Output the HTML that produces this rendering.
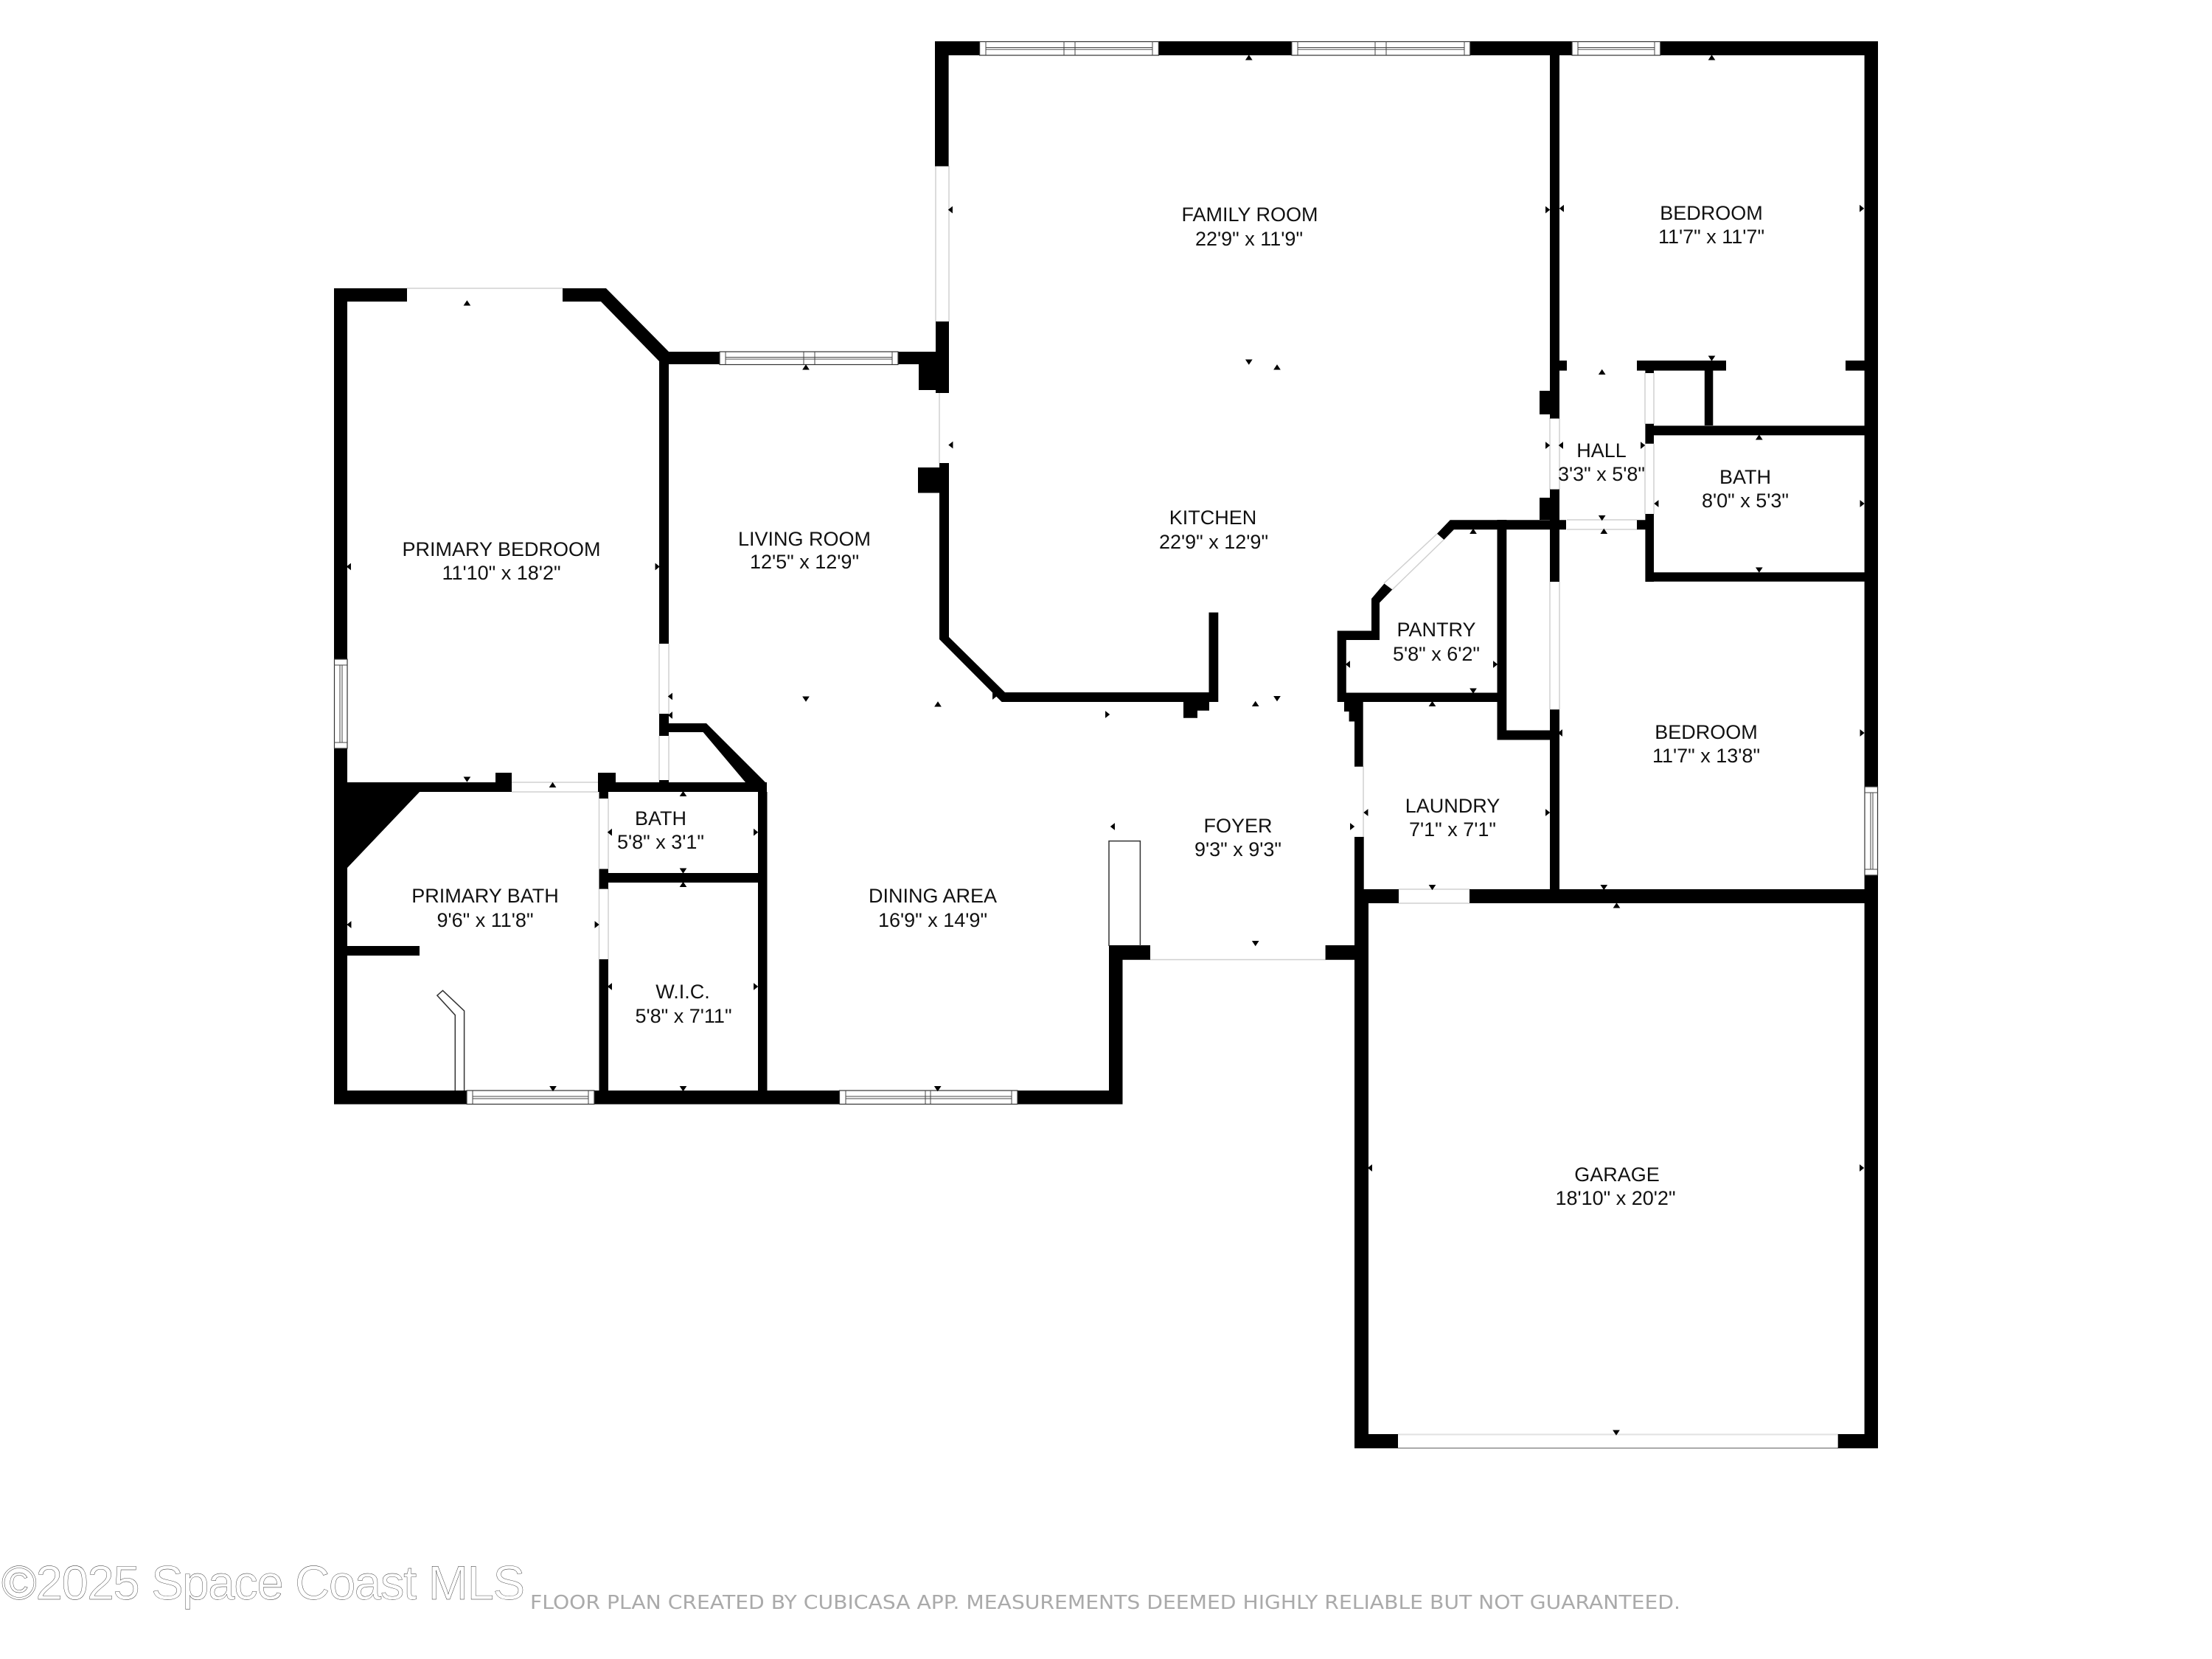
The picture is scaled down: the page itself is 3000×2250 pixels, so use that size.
<!DOCTYPE html>
<html lang="en">
<head>
<meta charset="utf-8">
<title>Floor plan</title>
<style>
html,body{margin:0;padding:0;background:#fff}
svg{display:block}
.l{font-family:"Liberation Sans",Arial,sans-serif;font-size:27px;fill:#111;text-anchor:middle}
.m{fill:#000;stroke:#000;stroke-width:.9}
</style>
</head>
<body>
<svg xmlns="http://www.w3.org/2000/svg" width="3000" height="2250" viewBox="0 0 3000 2250">
<rect width="3000" height="2250" fill="#fff"/>

<!-- thin door / opening outlines -->
<path fill="none" stroke="#d0d0d0" stroke-width="1.5" d="M552 391H763M1269 225V436M1287 225V436M1274 533V628M894 873V968M907 873V968M894 998V1058M907 998V1058M694 1061H811M694 1074H811M812.5 1083V1178M825 1083V1178M812.5 1205V1301M825 1205V1301M1560 1301.5H1798M1849 1039V1135M1897 1206H1993M1897 1225H1993M2102 567V664M2115 567V664M2102 789V962M2115 789V962M2231 506V575M2243 506V575M2231 602V697M2243 602V697M2125 705H2220M2125 718H2220M1949 724L1877 791M1958 732L1888 800"/>
<path fill="none" stroke="#e2e2e2" stroke-width="2" d="M1896 1945.5H2493"/>
<path fill="none" stroke="#aaa" stroke-width="2" d="M1896 1964H2493"/>

<!-- walls -->
<path fill="#000" d="
M453 391H552V409H453Z
M763 391H822L907 477V490H894L815 409H763Z
M453 391H471V894H453Z
M453 1015H471V1497H453Z
M894 477H907V873H894Z
M894 968H907V998H894Z
M907 981H958L1040 1063V1074H1022L953.6 993H907Z
M894 1058H907V1074H894Z
M453 1061H672V1074H453Z
M672 1048H694V1074H672Z
M811 1048H835V1074H811Z
M835 1061H1040V1074H835Z
M471 1073H570L471 1177Z
M812.5 1074H825V1083H812.5Z
M812.5 1178.5H825V1205.6H812.5Z
M812.5 1301H825V1497H812.5Z
M825 1184H1040V1197H825Z
M1028 1074H1040.5V1497H1028Z
M471 1283H569V1296H471Z
M453 1479H633V1497.6H453Z
M806 1479H1138.5V1497.6H806Z
M1380 1479H1522V1497.6H1380Z
M1504 1282H1522.5V1497.6H1504Z
M1504 1282H1560V1301.7H1504Z
M907 477H976V494H907Z
M1218 477H1269V494H1218Z
M1246 477H1269V529H1246Z
M1269 436H1287V533H1269Z
M1274 628H1287V864H1274Z
M1245 634H1274V668.5H1245Z
M1274 864H1287L1363 939H1652.3V952H1358.6L1274 867Z
M1639.5 830.6H1652.3V952H1639.5Z
M1605 952H1640V963.7H1605Z
M1605 963H1624V973.7H1605Z
M1268 56H1328.6V75H1268Z
M1571.4 56H1751.8V75H1571.4Z
M1993.8 56H2132V75H1993.8Z
M2251.8 56H2547V75H2251.8Z
M1268 56H1286.6V225.5H1268Z
M2102 75H2115V567.6H2102Z
M2102 663.6H2115V789H2102Z
M2102 962.3H2115V1224H2102Z
M2102 489H2125V502.6H2102Z
M2220 489H2341V502.6H2220Z
M2503 489H2530V502.6H2503Z
M2231.4 502H2243V506H2231.4Z
M2231.4 574.7H2243V601.8H2231.4Z
M2243 577.4H2530V590.4H2243Z
M2311.8 502H2323.3V577H2311.8Z
M2231.4 697H2243V789H2231.4Z
M2231.4 776.3H2530V788.8H2231.4Z
M2088 530H2102V562H2088Z
M2088 675H2102V705H2088Z
M1966.7 705.3H2124V718.3H1971.8L1958.4 732L1949 723.8Z
M2220 705.3H2243V718.3H2220Z
M1877.4 791.5L1888.3 799.6L1871 817.5V868H1825.8V939.5H2030.5V705H2043.3V990.5H2102V1003.5H2030.5V952H1848.7V1039.8H1837V978.5H1829.6V965H1823V952H1813.7V855.5H1860V812Z
M2528.6 56H2547V1067H2528.6Z
M2528.6 1187H2547V1964.3H2528.6Z
M1837 1206H1897V1225H1837Z
M1993 1206H2547V1225H1993Z
M1837 1135H1849.7V1301H1837Z
M1837 1225H1856V1964.3H1837Z
M1797.6 1282H1856V1301.7H1797.6Z
M1837 1945H1896V1964.3H1837Z
M2492.7 1945H2547V1964.3H2492.7Z
"/>

<!-- windows -->
<g fill="#fff" stroke="#333" stroke-width="1.2">
<rect x="976" y="477" width="242" height="17.5"/>
<rect x="1328.6" y="56.5" width="242.8" height="18.5"/>
<rect x="1751.8" y="56.5" width="242" height="18.5"/>
<rect x="2132" y="56.5" width="119.8" height="18.5"/>
<rect x="633" y="1479" width="173" height="18.5"/>
<rect x="1138.5" y="1479" width="241.5" height="18.5"/>
<rect x="453.5" y="894" width="17.5" height="121"/>
<rect x="2529" y="1067" width="17.5" height="120"/>
</g>
<path fill="none" stroke="#444" stroke-width="1" d="
M984 484.5H1210M984 487H1210M984 477V494M1210 477V494M1090 477V494M1105 477V494
M1337 64.5H1563M1337 67H1563M1337 56V75M1563 56V75M1443 56V75M1458 56V75
M1760 64.5H1986M1760 67H1986M1760 56V75M1986 56V75M1865 56V75M1880 56V75
M2140 64.5H2244M2140 67H2244M2140 56V75M2244 56V75
M641 1487H798M641 1490H798M641 1479V1497M798 1479V1497
M1147 1487H1372M1147 1490H1372M1147 1479V1497M1372 1479V1497M1255 1479V1497M1262 1479V1497
M461 902V1007M464 902V1007M453 902H471M453 1007H471
M2537 1075V1179M2540 1075V1179M2529 1075H2547M2529 1179H2547"/>

<!-- closet and tub outline -->
<path fill="none" stroke="#333" stroke-width="1.5" d="M1504 1283V1140.6H1546.4V1283"/>
<path fill="none" stroke="#333" stroke-width="1.5" d="M617.3 1479V1376.7L592.9 1350L600.5 1343.4L629.6 1371V1479"/>

<!-- dimension markers: up -->
<path class="m" d="
M629.4 414h8l-4 -6z M1089 501h8l-4 -6z M1268 958h8l-4 -6z M745.5 1067.5h8l-4 -6z M922.5 1079.5h8l-4 -6z M922.5 1202.5h8l-4 -6z
M1689.8 81h8l-4 -6z M2317.5 81h8l-4 -6z M1728 501h8l-4 -6z M2168.7 507.5h8l-4 -6z M2381.8 596h8l-4 -6z M2171.3 723.5h8l-4 -6z
M1994 723.5h8l-4 -6z M1938.5 957.5h8l-4 -6z M2188.5 1231h8l-4 -6z M1698.7 957.5h8l-4 -6z"/>
<!-- down -->
<path class="m" d="
M1089 945h8l-4 6z M629.4 1054h8l-4 6z M922.5 1178h8l-4 6z M746 1473.5h8l-4 6z M922.5 1473.5h8l-4 6z M1267.7 1473.5h8l-4 6z
M1689.8 488h8l-4 6z M2317.5 483h8l-4 6z M2168.7 699.5h8l-4 6z M2381.8 770h8l-4 6z M1994 934h8l-4 6z M1938.5 1200.5h8l-4 6z
M2171.3 1200.5h8l-4 6z M1698.7 1276.5h8l-4 6z M1728 944.5h8l-4 6z M2188 1940h8l-4 6z"/>
<!-- left -->
<path class="m" d="
M1292 599.5v8l-5 -4z M475.5 764.5v8l-5 -4z M911.5 940.5v8l-5 -4z M911.5 966v8l-5 -4z M829.5 1124.7v8l-5 -4z M476 1250v8l-5 -4z
M829.5 1334v8l-5 -4z M1511.5 1117v8l-5 -4z M1291.5 280.5v8l-5 -4z M2120.5 278.7v8l-5 -4z M2119.5 600v8l-5 -4z M2249 679v8l-5 -4z
M1830.5 897v8l-5 -4z M2118.5 990v8l-5 -4z M1855 1098v8l-5 -4z M1860.5 1580v8l-5 -4z"/>
<!-- right -->
<path class="m" d="
M889 764.5v8l5 -4z M1346.5 940v8l5 -4z M1022.5 1124.7v8l5 -4z M807 1250v8l5 -4z M1022.5 1334v8l5 -4z M1499.5 965v8l5 -4z
M2096.5 280.5v8l5 -4z M2522.5 278.7v8l5 -4z M2096.5 600v8l5 -4z M2225.5 600v8l5 -4z M2523 679v8l5 -4z M2025.5 897v8l5 -4z
M2523 990v8l5 -4z M2096.5 1098v8l5 -4z M1831.5 1117v8l5 -4z M2522.5 1580v8l5 -4z"/>

<!-- room labels -->
<g>
<text class="l" x="1695" y="300">FAMILY ROOM</text><text class="l" x="1694" y="333">22'9" x 11'9"</text>
<text class="l" x="2321" y="298">BEDROOM</text><text class="l" x="2321" y="330">11'7" x 11'7"</text>
<text class="l" x="680" y="754">PRIMARY BEDROOM</text><text class="l" x="680" y="786">11'10" x 18'2"</text>
<text class="l" x="1091" y="740">LIVING ROOM</text><text class="l" x="1091" y="771">12'5" x 12'9"</text>
<text class="l" x="1645" y="711">KITCHEN</text><text class="l" x="1646" y="744">22'9" x 12'9"</text>
<text class="l" x="2172" y="620">HALL</text><text class="l" x="2172" y="652">3'3" x 5'8"</text>
<text class="l" x="2367" y="656">BATH</text><text class="l" x="2367" y="688">8'0" x 5'3"</text>
<text class="l" x="1948" y="863">PANTRY</text><text class="l" x="1948" y="896">5'8" x 6'2"</text>
<text class="l" x="2314" y="1002">BEDROOM</text><text class="l" x="2314" y="1034">11'7" x 13'8"</text>
<text class="l" x="1970" y="1102">LAUNDRY</text><text class="l" x="1970" y="1134">7'1" x 7'1"</text>
<text class="l" x="1679" y="1129">FOYER</text><text class="l" x="1679" y="1161">9'3" x 9'3"</text>
<text class="l" x="896" y="1119">BATH</text><text class="l" x="896" y="1151">5'8" x 3'1"</text>
<text class="l" x="658" y="1224">PRIMARY BATH</text><text class="l" x="658" y="1257">9'6" x 11'8"</text>
<text class="l" x="1265" y="1224">DINING AREA</text><text class="l" x="1265" y="1257">16'9" x 14'9"</text>
<text class="l" x="926" y="1354">W.I.C.</text><text class="l" x="927" y="1387">5'8" x 7'11"</text>
<text class="l" x="2193" y="1602">GARAGE</text><text class="l" x="2191" y="1634">18'10" x 20'2"</text>
</g>

<!-- footer -->
<text x="2" y="2169" font-family="'Liberation Sans',Arial,sans-serif" font-size="65" fill="#fff" stroke="#222" stroke-width="0.4" textLength="710" lengthAdjust="spacing">©2025 Space Coast MLS</text>
<text x="719" y="2182" font-family="'DejaVu Sans','Liberation Sans',sans-serif" font-size="26" fill="#aaa" textLength="1560" lengthAdjust="spacingAndGlyphs">FLOOR PLAN CREATED BY CUBICASA APP. MEASUREMENTS DEEMED HIGHLY RELIABLE BUT NOT GUARANTEED.</text>
</svg>
</body>
</html>
